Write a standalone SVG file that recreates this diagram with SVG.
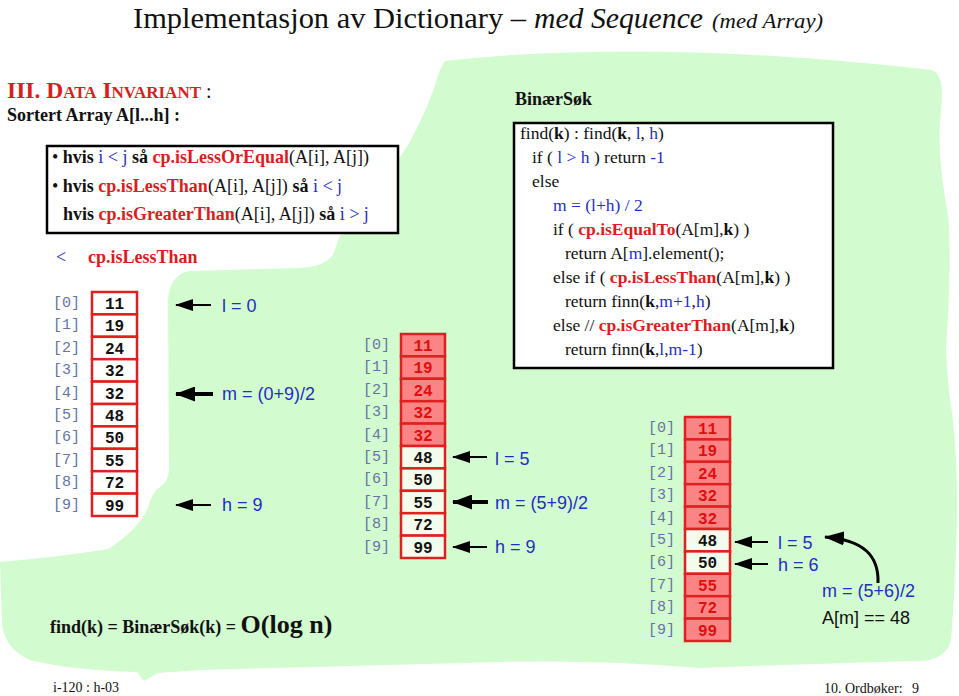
<svg xmlns="http://www.w3.org/2000/svg" width="959" height="696" viewBox="0 0 959 696">
<style>
.ser{font-family:"Liberation Serif","Times New Roman",serif;fill:#111}
.b{font-weight:bold}
.blue{fill:#1f2fbf}
.red{fill:#d81e1e;font-weight:bold}
.sans{font-family:"Liberation Sans",Arial,sans-serif;font-size:18px;fill:#1f2fbf}
.idx{font-family:"Liberation Mono","Courier New",monospace;font-size:15px;fill:#6574a4}
.val{font-family:"Liberation Mono","Courier New",monospace;font-size:16px;font-weight:bold;text-anchor:middle}
.cell{stroke:#e02020;stroke-width:2.5}
.w{fill:#ffffff}
.p{fill:#f3fbec}
.r{fill:#fb8585}
.vr{fill:#dd1010}
.vb{fill:#111}
.thin{stroke:#000;stroke-width:2;fill:none}
.thick{stroke:#000;stroke-width:4;fill:none}
</style>
<defs>
<marker id="ah" markerUnits="userSpaceOnUse" viewBox="0 0 18 12" refX="17" refY="6" markerWidth="18" markerHeight="12" orient="auto">
<path d="M0,0 L18,6 L0,12 Z" fill="#000"/>
</marker>
<marker id="ahb" markerUnits="userSpaceOnUse" viewBox="0 0 20 15" refX="19" refY="7.5" markerWidth="20" markerHeight="15" orient="auto">
<path d="M0,0 L20,7.5 L0,15 Z" fill="#000"/>
</marker>
<marker id="ahc" markerUnits="userSpaceOnUse" viewBox="0 0 20 14" refX="19" refY="7" markerWidth="20" markerHeight="14" orient="auto">
<path d="M0,0 L20,7 L0,14 Z" fill="#000"/>
</marker>
</defs>
<rect width="959" height="696" fill="#fff"/>
<g id="background">
<path d="M445,61 Q650,38 932,70 Q945,75 941,110 Q936,150 948,215 Q952,260 946,350 Q948,390 953,420 Q958,470 957,520 Q955,590 951,640 Q946,660 920,661 Q800,664 700,668 Q600,660 500,662 Q350,666 200,670 L158,673 L144,681 L137,672 Q70,670 30,660 Q6,650 2,625 L0,562 Q60,557 108,549 Q138,530 148,508 Q152,492 160,487 Q168,482 169,470 L168,300 Q170,274 190,271 L300,268 Q330,266 335,250 Q342,225 365,200 Q393,170 408,145 Q428,110 440,70 Z" fill="#d3fbd0"/>
</g>
<g id="title">
<text class="ser" x="133" y="28" font-size="30" textLength="393" lengthAdjust="spacingAndGlyphs">Implementasjon av Dictionary –</text>
<text class="ser" x="534" y="28" font-size="30" font-style="italic" textLength="169" lengthAdjust="spacingAndGlyphs">med Sequence</text>
<text class="ser" x="712" y="28" font-size="22" font-style="italic" textLength="111" lengthAdjust="spacingAndGlyphs">(med Array)</text>
</g>
<g id="invariant">
<text class="ser" x="7" y="98" font-size="23.5"><tspan class="red">III. D</tspan><tspan class="red" font-size="17">ATA</tspan><tspan class="red"> I</tspan><tspan class="red" font-size="17">NVARIANT</tspan><tspan font-size="20"> :</tspan></text>
<text class="ser b" x="7" y="121" font-size="18">Sortert Array A[l...h]  :</text>
</g>
<g id="invariant-box">
<rect x="47" y="146" width="351" height="87" fill="#fff" stroke="#000" stroke-width="2.5"/>
<text class="ser" x="52" y="163" font-size="18">• <tspan class="b">hvis </tspan><tspan class="blue">i &lt; j </tspan><tspan class="b">så </tspan><tspan class="red">cp.isLessOrEqual</tspan>(A[i], A[j])</text>
<text class="ser" x="52" y="192" font-size="18">• <tspan class="b">hvis </tspan><tspan class="red">cp.isLessThan</tspan>(A[i], A[j]) <tspan class="b">så </tspan><tspan class="blue">i &lt; j</tspan></text>
<text class="ser" x="63" y="220" font-size="18"><tspan class="b">hvis </tspan><tspan class="red">cp.isGreaterThan</tspan>(A[i], A[j]) <tspan class="b">så </tspan><tspan class="blue">i &gt; j</tspan></text>
</g>
<g id="lessthan">
<text class="ser" x="56" y="263" font-size="18"><tspan class="blue">&lt;</tspan><tspan class="red" x="88">cp.isLessThan</tspan></text>
</g>
<g id="array1">
<g class="idx"><text x="53" y="307">[0]</text><text x="53" y="329">[1]</text><text x="53" y="352">[2]</text><text x="53" y="374">[3]</text><text x="53" y="397">[4]</text><text x="53" y="419">[5]</text><text x="53" y="441">[6]</text><text x="53" y="464">[7]</text><text x="53" y="486">[8]</text><text x="53" y="509">[9]</text></g>
<g class="cell w"><rect x="92" y="292" width="45" height="22.4"/><rect x="92" y="314.4" width="45" height="22.4"/><rect x="92" y="336.8" width="45" height="22.4"/><rect x="92" y="359.2" width="45" height="22.4"/><rect x="92" y="381.6" width="45" height="22.4"/><rect x="92" y="404" width="45" height="22.4"/><rect x="92" y="426.4" width="45" height="22.4"/><rect x="92" y="448.8" width="45" height="22.4"/><rect x="92" y="471.2" width="45" height="22.4"/><rect x="92" y="493.6" width="45" height="22.4"/></g>
<g class="val vb"><text x="114.5" y="309">11</text><text x="114.5" y="331">19</text><text x="114.5" y="354">24</text><text x="114.5" y="376">32</text><text x="114.5" y="399">32</text><text x="114.5" y="421">48</text><text x="114.5" y="443">50</text><text x="114.5" y="466">55</text><text x="114.5" y="488">72</text><text x="114.5" y="511">99</text></g>
</g>
<g id="array2">
<g class="idx"><text x="363" y="349">[0]</text><text x="363" y="371">[1]</text><text x="363" y="394">[2]</text><text x="363" y="416">[3]</text><text x="363" y="439">[4]</text><text x="363" y="461">[5]</text><text x="363" y="483">[6]</text><text x="363" y="506">[7]</text><text x="363" y="528">[8]</text><text x="363" y="551">[9]</text></g>
<g class="cell"><rect class="r" x="401" y="334" width="44" height="22.4"/><rect class="r" x="401" y="356.4" width="44" height="22.4"/><rect class="r" x="401" y="378.8" width="44" height="22.4"/><rect class="r" x="401" y="401.2" width="44" height="22.4"/><rect class="r" x="401" y="423.6" width="44" height="22.4"/><rect class="p" x="401" y="446" width="44" height="22.4"/><rect class="p" x="401" y="468.4" width="44" height="22.4"/><rect class="p" x="401" y="490.8" width="44" height="22.4"/><rect class="p" x="401" y="513.2" width="44" height="22.4"/><rect class="p" x="401" y="535.6" width="44" height="22.4"/></g>
<g class="val"><text class="vr" x="423" y="351">11</text><text class="vr" x="423" y="373">19</text><text class="vr" x="423" y="396">24</text><text class="vr" x="423" y="418">32</text><text class="vr" x="423" y="441">32</text><text class="vb" x="423" y="463">48</text><text class="vb" x="423" y="485">50</text><text class="vb" x="423" y="508">55</text><text class="vb" x="423" y="530">72</text><text class="vb" x="423" y="553">99</text></g>
</g>
<g id="array3">
<g class="idx"><text x="648" y="432">[0]</text><text x="648" y="454">[1]</text><text x="648" y="477">[2]</text><text x="648" y="499">[3]</text><text x="648" y="522">[4]</text><text x="648" y="544">[5]</text><text x="648" y="566">[6]</text><text x="648" y="589">[7]</text><text x="648" y="611">[8]</text><text x="648" y="634">[9]</text></g>
<g class="cell"><rect class="r" x="685" y="417" width="45" height="22.4"/><rect class="r" x="685" y="439.4" width="45" height="22.4"/><rect class="r" x="685" y="461.8" width="45" height="22.4"/><rect class="r" x="685" y="484.2" width="45" height="22.4"/><rect class="r" x="685" y="506.6" width="45" height="22.4"/><rect class="p" x="685" y="529" width="45" height="22.4"/><rect class="p" x="685" y="551.4" width="45" height="22.4"/><rect class="r" x="685" y="573.8" width="45" height="22.4"/><rect class="r" x="685" y="596.2" width="45" height="22.4"/><rect class="r" x="685" y="618.6" width="45" height="22.4"/></g>
<g class="val"><text class="vr" x="707.5" y="434">11</text><text class="vr" x="707.5" y="456">19</text><text class="vr" x="707.5" y="479">24</text><text class="vr" x="707.5" y="501">32</text><text class="vr" x="707.5" y="524">32</text><text class="vb" x="707.5" y="546">48</text><text class="vb" x="707.5" y="568">50</text><text class="vr" x="707.5" y="591">55</text><text class="vr" x="707.5" y="613">72</text><text class="vr" x="707.5" y="636">99</text></g>
</g>
<g id="labels1">
<text class="sans" x="222" y="312">l = 0</text>
<text class="sans" x="222" y="400">m = (0+9)/2</text>
<text class="sans" x="222" y="511">h = 9</text>
</g>
<g id="labels2">
<text class="sans" x="495" y="465">l = 5</text>
<text class="sans" x="495" y="509">m = (5+9)/2</text>
<text class="sans" x="495" y="553">h = 9</text>
</g>
<g id="labels3">
<text class="sans" x="778" y="549">l = 5</text>
<text class="sans" x="778" y="571">h = 6</text>
<text class="sans" x="822" y="597">m = (5+6)/2</text>
<text class="sans" x="822" y="624" style="fill:#111">A[m] == 48</text>
</g>
<g id="connectors">
<line class="thin" x1="211" y1="305" x2="176" y2="305" marker-end="url(#ah)"/>
<line class="thick" x1="213" y1="394" x2="176" y2="394" marker-end="url(#ahb)"/>
<line class="thin" x1="211" y1="505" x2="176" y2="505" marker-end="url(#ah)"/>
<line class="thin" x1="487" y1="457" x2="453" y2="457" marker-end="url(#ah)"/>
<line class="thick" x1="488" y1="502" x2="453" y2="502" marker-end="url(#ahb)"/>
<line class="thin" x1="487" y1="547" x2="453" y2="547" marker-end="url(#ah)"/>
<line class="thin" x1="768" y1="542" x2="735" y2="542" marker-end="url(#ah)"/>
<line class="thin" x1="768" y1="564" x2="735" y2="564" marker-end="url(#ah)"/>
<path d="M878,583 C879,556 864,540 825,537" stroke="#000" stroke-width="3" fill="none" marker-end="url(#ahc)"/>
</g>
<g id="binarysearch">
<text class="ser b" x="515" y="105" font-size="18">BinærSøk</text>
<rect x="514" y="123" width="319" height="245" fill="#fff" stroke="#000" stroke-width="2.5"/>
<g class="ser" font-size="17.5">
<text x="520" y="139">find(<tspan class="b">k</tspan>) : find(<tspan class="b">k</tspan>, <tspan class="blue">l</tspan>, <tspan class="blue">h</tspan>)</text>
<text x="532" y="163">if ( <tspan class="blue">l &gt; h</tspan> ) return <tspan class="blue">-1</tspan></text>
<text x="532" y="187">else</text>
<text x="553" y="211" class="blue">m = (l+h) / 2</text>
<text x="553" y="235">if ( <tspan class="red">cp.isEqualTo</tspan>(A[m],<tspan class="b">k</tspan>) )</text>
<text x="565" y="259">return A[<tspan class="blue">m</tspan>].element();</text>
<text x="553" y="283">else if ( <tspan class="red">cp.isLessThan</tspan>(A[m],<tspan class="b">k</tspan>) )</text>
<text x="565" y="307">return finn(<tspan class="b">k</tspan>,<tspan class="blue">m+1</tspan>,<tspan class="blue">h</tspan>)</text>
<text x="553" y="331">else //  <tspan class="red">cp.isGreaterThan</tspan>(A[m],<tspan class="b">k</tspan>)</text>
<text x="565" y="355">return finn(<tspan class="b">k</tspan>,<tspan class="blue">l</tspan>,<tspan class="blue">m-1</tspan>)</text>
</g>
</g>
<g id="complexity">
<text class="ser b" x="50" y="633" font-size="18">find(k) = BinærSøk(k) = <tspan font-size="26">O(log n)</tspan></text>
</g>
<g id="footer">
<text class="ser" x="53" y="692" font-size="14">i-120 : h-03</text>
<text class="ser" x="824" y="693" font-size="14">10. Ordbøker:</text>
<text class="ser" x="912" y="693" font-size="14">9</text>
</g>
</svg>
